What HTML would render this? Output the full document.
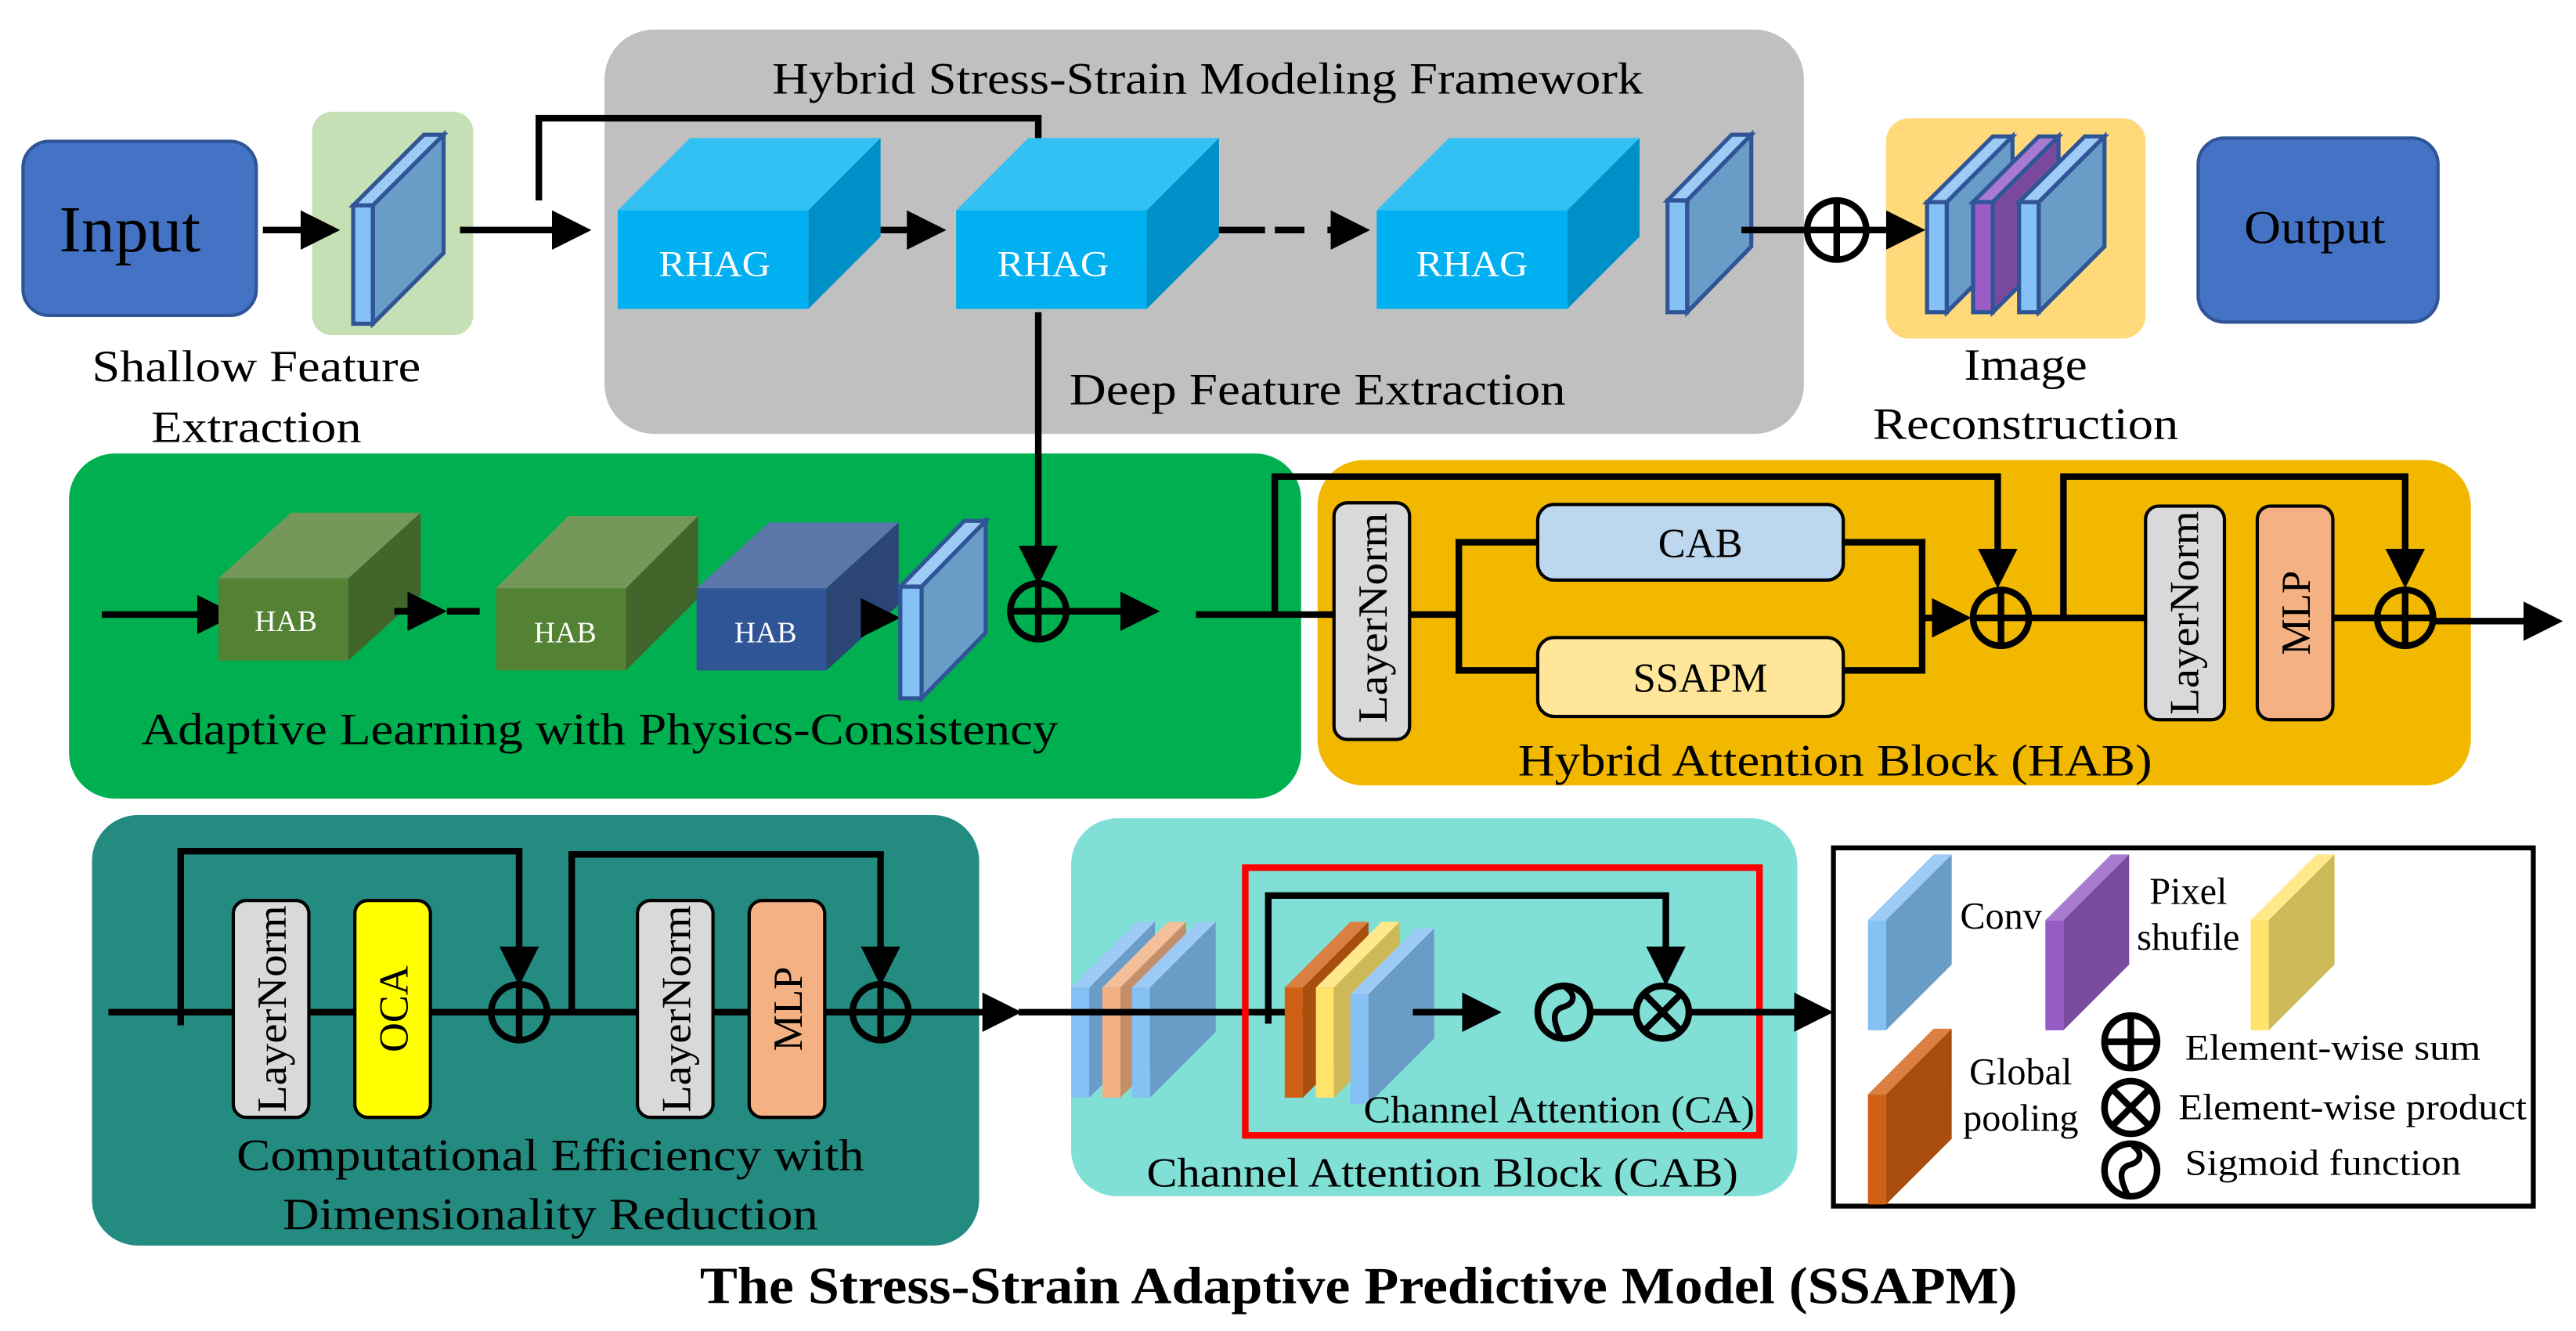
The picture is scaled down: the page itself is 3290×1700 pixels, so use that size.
<!DOCTYPE html>
<html><head><meta charset="utf-8"><style>
html,body{margin:0;padding:0;background:#fff;}
svg{display:block;}
text{font-family:"Liberation Serif",serif;}
.sf{fill:#85c1f5;stroke:#2f5597;stroke-width:2.5;}
.st{fill:#9dcbf5;stroke:#2f5597;stroke-width:2.5;}
.ss{fill:#6a9cc8;stroke:#2f5597;stroke-width:2.5;}
.pf{fill:#9b5cc6;stroke:#2f5597;stroke-width:2.5;}
.pt{fill:#a97bd0;stroke:#2f5597;stroke-width:2.5;}
.ps{fill:#7a4a9e;stroke:#2f5597;stroke-width:2.5;}
</style></head><body>
<svg width="3290" height="1700" viewBox="0 0 1568 810" preserveAspectRatio="none" xmlns="http://www.w3.org/2000/svg">
<defs>
<marker id="ah" markerWidth="6" markerHeight="6" refX="5" refY="3" orient="auto" markerUnits="strokeWidth"><path d="M0,0 L6,3 L0,6 z" fill="#000"/></marker>
<g id="cube">
<polygon points="0,44 44,0 160,0 116,44" fill="#33c0f3"/>
<polygon points="116,44 160,0 160,60 116,104" fill="#0090c8"/>
<rect x="0" y="44" width="116" height="60" fill="#00b0f0"/>
</g>
<g id="bl"><polygon points="0,40 11,40 51,0 40,0" fill="#9dcbf5"/><rect x="0" y="40" width="11" height="67" fill="#85c1f5"/><polygon points="11,40 51,0 51,67 11,107" fill="#6a9cc8"/></g>
<g id="or"><polygon points="0,40 11,40 51,0 40,0" fill="#f4c09c"/><rect x="0" y="40" width="11" height="67" fill="#f2b084"/><polygon points="11,40 51,0 51,67 11,107" fill="#c48e69"/></g>
<g id="dor"><polygon points="0,40 11,40 51,0 40,0" fill="#db7f42"/><rect x="0" y="40" width="11" height="67" fill="#d06014"/><polygon points="11,40 51,0 51,67 11,107" fill="#aa4e10"/></g>
<g id="ye"><polygon points="0,40 11,40 51,0 40,0" fill="#ffe98a"/><rect x="0" y="40" width="11" height="67" fill="#ffe36b"/><polygon points="11,40 51,0 51,67 11,107" fill="#cdb957"/></g>
<g id="pu"><polygon points="0,40 11,40 51,0 40,0" fill="#a97bd0"/><rect x="0" y="40" width="11" height="67" fill="#955bc2"/><polygon points="11,40 51,0 51,67 11,107" fill="#7a4a9e"/></g>
</defs>

<rect x="368" y="18" width="730" height="246" rx="30" fill="#c0c0c0"/>
<rect x="190" y="68" width="98" height="136" rx="12" fill="#c5e0b4"/>
<rect x="1148" y="72" width="158" height="134" rx="14" fill="#ffd97a"/>
<rect x="42" y="276" width="750" height="210" rx="28" fill="#00b050"/>
<rect x="802" y="280" width="702" height="198" rx="28" fill="#f2b800"/>
<rect x="56" y="496" width="540" height="262" rx="28" fill="#238b80"/>
<rect x="652" y="498" width="442" height="230" rx="28" fill="#80e0d6"/>

<rect x="14" y="86" width="142" height="106" rx="16" fill="#4472c4" stroke="#2f5597" stroke-width="2"/>
<text x="79" y="153" font-size="40" text-anchor="middle" textLength="86" lengthAdjust="spacingAndGlyphs">Input</text>
<line x1="160" y1="140" x2="203" y2="140" stroke="#000" stroke-width="4" marker-end="url(#ah)"/>
<polygon class="st" points="215,125 227,125 270,82 258,82"/>
<rect class="sf" x="215" y="125" width="12" height="72"/>
<polygon class="ss" points="227,125 270,82 270,154 227,197"/>
<text x="156" y="232" font-size="27" text-anchor="middle" textLength="200" lengthAdjust="spacingAndGlyphs">Shallow Feature</text>
<text x="156" y="269" font-size="27" text-anchor="middle" textLength="128" lengthAdjust="spacingAndGlyphs">Extraction</text>
<line x1="280" y1="140" x2="356" y2="140" stroke="#000" stroke-width="4" marker-end="url(#ah)"/>
<polyline points="328,122 328,72 632,72 632,86" fill="none" stroke="#000" stroke-width="4"/>
<text x="735" y="57" font-size="27" text-anchor="middle" textLength="530" lengthAdjust="spacingAndGlyphs">Hybrid Stress-Strain Modeling Framework</text>
<use href="#cube" x="376" y="84"/>
<use href="#cube" x="582" y="84"/>
<use href="#cube" x="838" y="84"/>
<text x="435" y="168" font-size="22" fill="#fff" text-anchor="middle" textLength="68" lengthAdjust="spacingAndGlyphs">RHAG</text>
<text x="641" y="168" font-size="22" fill="#fff" text-anchor="middle" textLength="68" lengthAdjust="spacingAndGlyphs">RHAG</text>
<text x="896" y="168" font-size="22" fill="#fff" text-anchor="middle" textLength="68" lengthAdjust="spacingAndGlyphs">RHAG</text>
<line x1="536" y1="140" x2="572" y2="140" stroke="#000" stroke-width="4" marker-end="url(#ah)"/>
<line x1="742" y1="140" x2="770" y2="140" stroke="#000" stroke-width="4"/>
<line x1="776" y1="140" x2="830" y2="140" stroke="#000" stroke-width="4" stroke-dasharray="18,14" marker-end="url(#ah)"/>
<polygon class="st" points="1015,122 1027,122 1066,82 1054,82"/>
<rect class="sf" x="1015" y="122" width="12" height="68"/>
<polygon class="ss" points="1027,122 1066,82 1066,150 1027,190"/>
<line x1="1060" y1="140" x2="1100" y2="140" stroke="#000" stroke-width="4"/>
<circle cx="1118" cy="140" r="18" fill="none" stroke="#000" stroke-width="4"/>
<line x1="1100" y1="140" x2="1136" y2="140" stroke="#000" stroke-width="4"/>
<line x1="1118" y1="122" x2="1118" y2="158" stroke="#000" stroke-width="4"/>
<line x1="1136" y1="140" x2="1168" y2="140" stroke="#000" stroke-width="4" marker-end="url(#ah)"/>
<polygon class="st" points="1173,123 1185,123 1225,83 1213,83"/>
<rect class="sf" x="1173" y="123" width="12" height="67"/>
<polygon class="ss" points="1185,123 1225,83 1225,150 1185,190"/>
<polygon class="pt" points="1201,123 1213,123 1253,83 1241,83"/>
<rect class="pf" x="1201" y="123" width="12" height="67"/>
<polygon class="ps" points="1213,123 1253,83 1253,150 1213,190"/>
<polygon class="st" points="1229,123 1241,123 1281,83 1269,83"/>
<rect class="sf" x="1229" y="123" width="12" height="67"/>
<polygon class="ss" points="1241,123 1281,83 1281,150 1241,190"/>
<text x="1233" y="231" font-size="27" text-anchor="middle" textLength="75" lengthAdjust="spacingAndGlyphs">Image</text>
<text x="1233" y="267" font-size="27" text-anchor="middle" textLength="186" lengthAdjust="spacingAndGlyphs">Reconstruction</text>
<rect x="1338" y="84" width="146" height="112" rx="16" fill="#4472c4" stroke="#2f5597" stroke-width="2"/>
<text x="1409" y="148" font-size="29" text-anchor="middle" textLength="86" lengthAdjust="spacingAndGlyphs">Output</text>
<text x="802" y="246" font-size="27" text-anchor="middle" textLength="302" lengthAdjust="spacingAndGlyphs">Deep Feature Extraction</text>
<line x1="632" y1="190" x2="632" y2="352" stroke="#000" stroke-width="4" marker-end="url(#ah)"/>

<line x1="62" y1="374" x2="140" y2="374" stroke="#000" stroke-width="4" marker-end="url(#ah)"/>
<g><polygon points="133,352 177,312 256,312 212,352" fill="#76975a"/><polygon points="212,352 256,312 256,362 212,402" fill="#41652a"/><rect x="133" y="352" width="79" height="50" fill="#548235"/></g>
<text x="174" y="384" font-size="18" fill="#fff" text-anchor="middle">HAB</text>
<line x1="240" y1="372" x2="268" y2="372" stroke="#000" stroke-width="4" marker-end="url(#ah)"/>
<line x1="272" y1="372" x2="292" y2="372" stroke="#000" stroke-width="4"/>
<g><polygon points="302,358 346,314 425,314 381,358" fill="#76975a"/><polygon points="381,358 425,314 425,364 381,408" fill="#41652a"/><rect x="302" y="358" width="79" height="50" fill="#548235"/></g>
<text x="344" y="391" font-size="18" fill="#fff" text-anchor="middle">HAB</text>
<g><polygon points="424,358 468,318 547,318 503,358" fill="#5b76a8"/><polygon points="503,358 547,318 547,368 503,408" fill="#2b4574"/><rect x="424" y="358" width="79" height="50" fill="#2f5597"/></g>
<text x="466" y="391" font-size="18" fill="#fff" text-anchor="middle">HAB</text>
<line x1="528" y1="376" x2="544" y2="376" stroke="#000" stroke-width="4" marker-end="url(#ah)"/>
<polygon class="st" points="548,357 561,357 600,317 587,317"/>
<rect class="sf" x="548" y="357" width="13" height="68"/>
<polygon class="ss" points="561,357 600,317 600,385 561,425"/>
<circle cx="632" cy="372" r="17" fill="none" stroke="#000" stroke-width="4"/>
<line x1="615" y1="372" x2="649" y2="372" stroke="#000" stroke-width="4"/>
<line x1="632" y1="355" x2="632" y2="389" stroke="#000" stroke-width="4"/>
<line x1="649" y1="372" x2="702" y2="372" stroke="#000" stroke-width="4" marker-end="url(#ah)"/>
<text x="365" y="453" font-size="27" text-anchor="middle" textLength="558" lengthAdjust="spacingAndGlyphs">Adaptive Learning with Physics-Consistency</text>

<line x1="728" y1="374" x2="812" y2="374" stroke="#000" stroke-width="4"/>
<polyline points="776,374 776,290 1216,290 1216,354" fill="none" stroke="#000" stroke-width="4" marker-end="url(#ah)"/>
<rect x="812" y="306" width="46" height="144" rx="8" fill="#d9d9d9" stroke="#000" stroke-width="2"/>
<text transform="translate(844 376) rotate(-90)" font-size="25" text-anchor="middle" textLength="128" lengthAdjust="spacingAndGlyphs">LayerNorm</text>
<line x1="858" y1="374" x2="888" y2="374" stroke="#000" stroke-width="4"/>
<polyline points="936,330 888,330 888,408 936,408" fill="none" stroke="#000" stroke-width="4"/>
<rect x="936" y="307" width="186" height="46" rx="10" fill="#bdd7ee" stroke="#000" stroke-width="2"/>
<text x="1035" y="339" font-size="25" text-anchor="middle">CAB</text>
<rect x="936" y="388" width="186" height="48" rx="10" fill="#ffe699" stroke="#000" stroke-width="2"/>
<text x="1035" y="421" font-size="25" text-anchor="middle">SSAPM</text>
<polyline points="1122,330 1170,330 1170,408 1122,408" fill="none" stroke="#000" stroke-width="4"/>
<line x1="1170" y1="376" x2="1196" y2="376" stroke="#000" stroke-width="4" marker-end="url(#ah)"/>
<circle cx="1218" cy="376" r="17" fill="none" stroke="#000" stroke-width="4"/>
<line x1="1201" y1="376" x2="1235" y2="376" stroke="#000" stroke-width="4"/>
<line x1="1218" y1="359" x2="1218" y2="393" stroke="#000" stroke-width="4"/>
<line x1="1235" y1="376" x2="1306" y2="376" stroke="#000" stroke-width="4"/>
<polyline points="1256,376 1256,290 1464,290 1464,354" fill="none" stroke="#000" stroke-width="4" marker-end="url(#ah)"/>
<rect x="1306" y="308" width="48" height="130" rx="8" fill="#d9d9d9" stroke="#000" stroke-width="2"/>
<text transform="translate(1338 373) rotate(-90)" font-size="25" text-anchor="middle" textLength="124" lengthAdjust="spacingAndGlyphs">LayerNorm</text>
<rect x="1374" y="308" width="46" height="130" rx="8" fill="#f4b183" stroke="#000" stroke-width="2"/>
<text transform="translate(1406 373) rotate(-90)" font-size="25" text-anchor="middle">MLP</text>
<line x1="1420" y1="376" x2="1447" y2="376" stroke="#000" stroke-width="4"/>
<circle cx="1464" cy="376" r="17" fill="none" stroke="#000" stroke-width="4"/>
<line x1="1447" y1="376" x2="1481" y2="376" stroke="#000" stroke-width="4"/>
<line x1="1464" y1="359" x2="1464" y2="393" stroke="#000" stroke-width="4"/>
<line x1="1481" y1="378" x2="1556" y2="378" stroke="#000" stroke-width="4" marker-end="url(#ah)"/>
<text x="1117" y="472" font-size="27" text-anchor="middle" textLength="386" lengthAdjust="spacingAndGlyphs">Hybrid Attention Block (HAB)</text>

<line x1="66" y1="616" x2="142" y2="616" stroke="#000" stroke-width="4"/>
<polyline points="110,624 110,518 316,518 316,596" fill="none" stroke="#000" stroke-width="4" marker-end="url(#ah)"/>
<rect x="142" y="548" width="46" height="132" rx="8" fill="#d9d9d9" stroke="#000" stroke-width="2"/>
<text transform="translate(174 614) rotate(-90)" font-size="25" text-anchor="middle" textLength="126" lengthAdjust="spacingAndGlyphs">LayerNorm</text>
<line x1="188" y1="616" x2="216" y2="616" stroke="#000" stroke-width="4"/>
<rect x="216" y="548" width="46" height="132" rx="8" fill="#ffff00" stroke="#000" stroke-width="2"/>
<text transform="translate(248 614) rotate(-90)" font-size="25" text-anchor="middle">OCA</text>
<line x1="262" y1="616" x2="299" y2="616" stroke="#000" stroke-width="4"/>
<circle cx="316" cy="616" r="17" fill="none" stroke="#000" stroke-width="4"/>
<line x1="299" y1="616" x2="333" y2="616" stroke="#000" stroke-width="4"/>
<line x1="316" y1="599" x2="316" y2="633" stroke="#000" stroke-width="4"/>
<line x1="333" y1="616" x2="388" y2="616" stroke="#000" stroke-width="4"/>
<polyline points="348,616 348,520 536,520 536,596" fill="none" stroke="#000" stroke-width="4" marker-end="url(#ah)"/>
<rect x="388" y="548" width="46" height="132" rx="8" fill="#d9d9d9" stroke="#000" stroke-width="2"/>
<text transform="translate(420 614) rotate(-90)" font-size="25" text-anchor="middle" textLength="126" lengthAdjust="spacingAndGlyphs">LayerNorm</text>
<line x1="434" y1="616" x2="456" y2="616" stroke="#000" stroke-width="4"/>
<rect x="456" y="548" width="46" height="132" rx="8" fill="#f4b183" stroke="#000" stroke-width="2"/>
<text transform="translate(488 614) rotate(-90)" font-size="25" text-anchor="middle">MLP</text>
<line x1="502" y1="616" x2="519" y2="616" stroke="#000" stroke-width="4"/>
<circle cx="536" cy="616" r="17" fill="none" stroke="#000" stroke-width="4"/>
<line x1="519" y1="616" x2="553" y2="616" stroke="#000" stroke-width="4"/>
<line x1="536" y1="599" x2="536" y2="633" stroke="#000" stroke-width="4"/>
<line x1="553" y1="616" x2="618" y2="616" stroke="#000" stroke-width="4" marker-end="url(#ah)"/>
<text x="335" y="712" font-size="27" text-anchor="middle" textLength="382" lengthAdjust="spacingAndGlyphs">Computational Efficiency with</text>
<text x="335" y="748" font-size="27" text-anchor="middle" textLength="326" lengthAdjust="spacingAndGlyphs">Dimensionality Reduction</text>

<use href="#bl" x="652" y="561"/>
<use href="#or" x="671" y="561"/>
<use href="#bl" x="689" y="561"/>
<line x1="620" y1="616" x2="910" y2="616" stroke="#000" stroke-width="4" marker-end="url(#ah)"/>
<rect x="758" y="528" width="313" height="163" fill="none" stroke="#ff0000" stroke-width="4"/>
<polyline points="772,623 772,545 1014,545 1014,596" fill="none" stroke="#000" stroke-width="4" marker-end="url(#ah)"/>
<use href="#dor" x="782" y="561"/>
<use href="#ye" x="801" y="561"/>
<use href="#bl" x="822" y="565"/>
<line x1="860" y1="616" x2="910" y2="616" stroke="#000" stroke-width="4" marker-end="url(#ah)"/>
<circle cx="952" cy="616" r="16" fill="#80e0d6" stroke="#000" stroke-width="4"/>
<path d="M953,601 C960,606 958,611 951,613 C945,615 945,621 950,631" fill="none" stroke="#000" stroke-width="3.5"/>
<line x1="968" y1="616" x2="996" y2="616" stroke="#000" stroke-width="4"/>
<circle cx="1012" cy="616" r="16" fill="#80e0d6" stroke="#000" stroke-width="4"/>
<line x1="1001" y1="605" x2="1023" y2="627" stroke="#000" stroke-width="4"/>
<line x1="1023" y1="605" x2="1001" y2="627" stroke="#000" stroke-width="4"/>
<line x1="1028" y1="616" x2="1112" y2="616" stroke="#000" stroke-width="4" marker-end="url(#ah)"/>
<text x="949" y="683" font-size="23" text-anchor="middle" textLength="238" lengthAdjust="spacingAndGlyphs">Channel Attention  (CA)</text>
<text x="878" y="722" font-size="25" text-anchor="middle" textLength="360" lengthAdjust="spacingAndGlyphs">Channel Attention Block (CAB)</text>

<rect x="1116" y="516" width="426" height="218" fill="#fff" stroke="#000" stroke-width="3"/>
<use href="#bl" x="1137" y="520"/>
<text x="1218" y="565" font-size="23" text-anchor="middle">Conv</text>
<use href="#pu" x="1245" y="520"/>
<text x="1332" y="550" font-size="23" text-anchor="middle">Pixel</text>
<text x="1332" y="578" font-size="23" text-anchor="middle">shufile</text>
<use href="#ye" x="1370" y="520"/>
<use href="#dor" x="1137" y="626"/>
<text x="1230" y="660" font-size="23" text-anchor="middle">Global</text>
<text x="1230" y="688" font-size="23" text-anchor="middle">pooling</text>
<circle cx="1297" cy="634" r="16" fill="none" stroke="#000" stroke-width="4"/>
<line x1="1281" y1="634" x2="1313" y2="634" stroke="#000" stroke-width="4"/>
<line x1="1297" y1="618" x2="1297" y2="650" stroke="#000" stroke-width="4"/>
<text x="1330" y="645" font-size="22" textLength="180" lengthAdjust="spacingAndGlyphs">Element-wise sum</text>
<circle cx="1297" cy="674" r="16" fill="none" stroke="#000" stroke-width="4"/>
<line x1="1286" y1="663" x2="1308" y2="685" stroke="#000" stroke-width="4"/>
<line x1="1308" y1="663" x2="1286" y2="685" stroke="#000" stroke-width="4"/>
<text x="1326" y="681" font-size="22" textLength="212" lengthAdjust="spacingAndGlyphs">Element-wise product</text>
<circle cx="1297" cy="712" r="16" fill="none" stroke="#000" stroke-width="4"/>
<path d="M1298,697 C1305,702 1303,707 1296,709 C1290,711 1290,717 1295,727" fill="none" stroke="#000" stroke-width="3.5"/>
<text x="1330" y="715" font-size="22" textLength="168" lengthAdjust="spacingAndGlyphs">Sigmoid function</text>

<text x="827" y="793" font-size="32" font-weight="bold" text-anchor="middle" textLength="802" lengthAdjust="spacingAndGlyphs">The Stress-Strain Adaptive Predictive Model (SSAPM)</text>
</svg>
</body></html>
